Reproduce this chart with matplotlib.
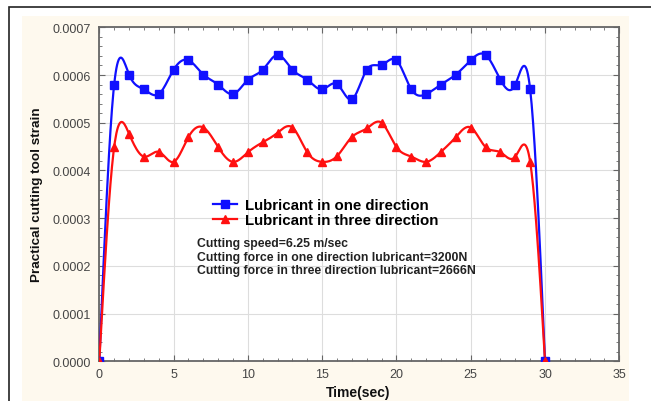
import matplotlib.pyplot as plt
from matplotlib.patches import Rectangle
from matplotlib.lines import Line2D
import numpy as np

# values
time_s = list(range(0, 31))
strain_one = [0.0, 0.000580, 0.000601, 0.000570, 0.000560, 0.000611, 0.000631, 0.000601,
              0.000580, 0.000560, 0.000590, 0.000611, 0.000642, 0.000611, 0.000590, 0.000570,
              0.000581, 0.000549, 0.000611, 0.000621, 0.000631, 0.000570, 0.000560, 0.000580,
              0.000601, 0.000631, 0.000642, 0.000590, 0.000580, 0.000570, 0.0]
strain_three = [0.0, 0.000449, 0.000477, 0.000429, 0.000439, 0.000418, 0.000470, 0.000490,
                0.000449, 0.000418, 0.000438, 0.000459, 0.000479, 0.000490, 0.000438, 0.000418,
                0.000430, 0.000470, 0.000488, 0.000500, 0.000449, 0.000429, 0.000418, 0.000439,
                0.000470, 0.000490, 0.000449, 0.000438, 0.000429, 0.000418, 0.0]
labels = ['Lubricant in one direction', 'Lubricant in three direction']
notes = ['Cutting speed=6.25 m/sec',
         'Cutting force in one direction lubricant=3200N',
         'Cutting force in three direction lubricant=2666N']


def natural_spline(x, y, xs):
    # smooth curve through the points, like the spline fit of the original software
    x = np.asarray(x, float)
    y = np.asarray(y, float)
    n = len(x)
    h = np.diff(x)
    A = np.zeros((n, n))
    r = np.zeros(n)
    A[0, 0] = A[-1, -1] = 1.0
    for i in range(1, n - 1):
        A[i, i - 1] = h[i - 1]
        A[i, i] = 2 * (h[i - 1] + h[i])
        A[i, i + 1] = h[i]
        r[i] = 3 * ((y[i + 1] - y[i]) / h[i] - (y[i] - y[i - 1]) / h[i - 1])
    c = np.linalg.solve(A, r)
    b = np.diff(y) / h - h * (2 * c[:-1] + c[1:]) / 3
    d = np.diff(c) / (3 * h)
    idx = np.clip(np.searchsorted(x, xs) - 1, 0, n - 2)
    t = xs - x[idx]
    return y[idx] + b[idx] * t + c[idx] * t ** 2 + d[idx] * t ** 3


plt.rcParams['font.family'] = ['Liberation Sans', 'DejaVu Sans']

fig = plt.figure(figsize=(6.51, 4.02), dpi=100)
fig.patch.set_facecolor('white')
W, H = 651, 402
# outer frame and cream panel, kept behind the axes
fig.patches.append(Rectangle((9 / W, -0.1), 1.2, 1 - 8 / H + 0.1, transform=fig.transFigure,
                             facecolor='none', edgecolor='#222222', linewidth=1.2, zorder=-10))
fig.patches.append(Rectangle((22 / W, -0.1), (629 - 22) / W, 1 - 17 / H + 0.1, transform=fig.transFigure,
                             facecolor='#fef9ee', edgecolor='none', zorder=-9))

ax = fig.add_axes([99.3 / W, 1 - 362.3 / H, 520 / W, 334 / H])
ax.set_facecolor('white')

xs = np.linspace(0, 30, 600)
ax.plot(xs, natural_spline(time_s, strain_one, xs), color='#1010ff', lw=1.6, zorder=3)
ax.plot(xs, natural_spline(time_s, strain_three, xs), color='#ff1010', lw=1.6, zorder=3)
ax.plot(time_s, strain_one, 's', color='#1010ff', ms=5.5, zorder=4)
ax.plot(time_s, strain_three, '^', color='#ff1010', ms=6, zorder=4)

ax.set_xlim(0, 35)
ax.set_ylim(0, 0.0007)
ax.set_xticks(np.arange(0, 36, 5))
ax.set_xticks(np.arange(0, 36, 1), minor=True)
ax.set_yticks(np.arange(0, 0.00071, 0.0001))
ax.set_yticks(np.arange(0, 0.00071, 0.00002), minor=True)
ax.set_yticklabels([f'{v:.4f}' for v in np.arange(0, 0.00071, 0.0001)])
ax.grid(True, which='major', color='#dddddd', lw=0.8)
ax.set_axisbelow(True)
ax.tick_params(which='both', direction='in', top=True, right=True, colors='#666666',
               labelcolor='#454545', labelsize=9)
ax.tick_params(axis='y', pad=6)
ax.tick_params(axis='x', pad=5)
ax.tick_params(which='major', length=4)
ax.tick_params(which='minor', length=2)
for s in ax.spines.values():
    s.set_color('#666666')
    s.set_linewidth(1.3)

handles = [Line2D([], [], color='#1010ff', marker='s', ms=5.5, lw=1.6),
           Line2D([], [], color='#ff1010', marker='^', ms=6, lw=1.6)]
ax.legend(handles, labels, loc='upper left', bbox_to_anchor=(0.205, 0.51), frameon=False,
          prop={'weight': 'bold', 'size': 10.8}, handlelength=1.6, handletextpad=0.5,
          borderpad=0, labelspacing=0.05)

ax.text(0.187, 0.372, '\n'.join(notes), transform=ax.transAxes, ha='left', va='top',
        fontsize=8.8, fontweight='bold', color='#222222', linespacing=1.18)

fig.text(37 / W, 1 - 195 / H, 'Practical cutting tool strain', rotation=90, ha='center', va='center',
         fontsize=9.7, fontweight='bold', color='#111111')
fig.text(358 / W, 1 - 393 / H, 'Time(sec)', ha='center', va='center',
         fontsize=10, fontweight='bold', color='#111111')

fig.savefig('out.png', dpi=100)
